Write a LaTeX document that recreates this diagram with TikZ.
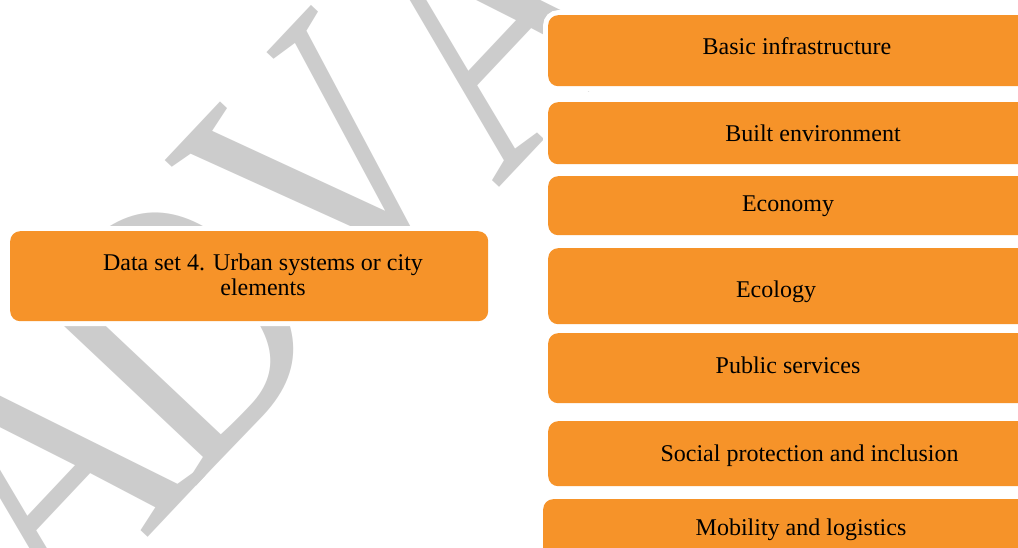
\documentclass[tikz,border=0pt]{standalone}
\usepackage{fontspec}
\setmainfont{Liberation Serif}
\definecolor{boxorange}{RGB}{246,147,41}
\definecolor{wmgray}{RGB}{204,204,204}
\tikzset{
  box/.style={fill=boxorange, rounded corners=10pt, inner sep=0pt,
    preaction={draw=white, line width=10pt}},
  txt/.style={font=\fontsize{24}{25.5}\selectfont, inner sep=0pt, text=black},
  watermark/.style={font=\fontsize{375}{375}\selectfont, text=wmgray, inner sep=0pt,
    rotate=46.7, xscale=0.813, anchor=base west}
}
\begin{document}
\begin{tikzpicture}[x=1pt,y=-1pt]
\useasboundingbox (0,0) rectangle (1018,548);
\clip (0,0) rectangle (1018,548);
\fill[white] (0,0) rectangle (1018,548);
% watermark letters
\node[watermark] (wm1) at (56.2,634.4) {A};
\node[watermark] (wm2) at (190.1,492.3) {D};
\node[watermark] (wm3) at (341.1,332.0) {V};
\node[watermark] (wm4) at (497,190) {A};
% left box
\node[box, anchor=north west, minimum width=478pt, minimum height=90pt] (main) at (10,231) {};
\node[txt, align=center, anchor=base] (maintxt) at (263,296) {Data set 4. Urban systems or city\\elements};
% right boxes
\node[box, anchor=north west, minimum width=480pt, minimum height=71pt] (b1) at (548,15) {};
\node[box, anchor=north west, minimum width=480pt, minimum height=62pt] (b2) at (548,102) {};
\node[box, anchor=north west, minimum width=480pt, minimum height=59pt] (b3) at (548,176) {};
\node[box, anchor=north west, minimum width=480pt, minimum height=76pt] (b4) at (548,248) {};
\node[box, anchor=north west, minimum width=480pt, minimum height=70pt] (b5) at (548,333) {};
\node[box, anchor=north west, minimum width=480pt, minimum height=65pt] (b6) at (548,421) {};
\node[box, anchor=north west, minimum width=485pt, minimum height=70pt] (b7) at (543,499) {};
\node[txt, anchor=base] (t1) at (797,55) {Basic infrastructure};
\node[txt, anchor=base] (t2) at (813,142) {Built environment};
\node[txt, anchor=base] (t3) at (788,212) {Economy};
\node[txt, anchor=base] (t4) at (776,298) {Ecology};
\node[txt, anchor=base] (t5) at (788,373) {Public services};
\node[txt, anchor=base] (t6) at (809.5,461) {Social protection and inclusion};
\node[txt, anchor=base] (t7) at (801,535) {Mobility and logistics};
\end{tikzpicture}
\end{document}
